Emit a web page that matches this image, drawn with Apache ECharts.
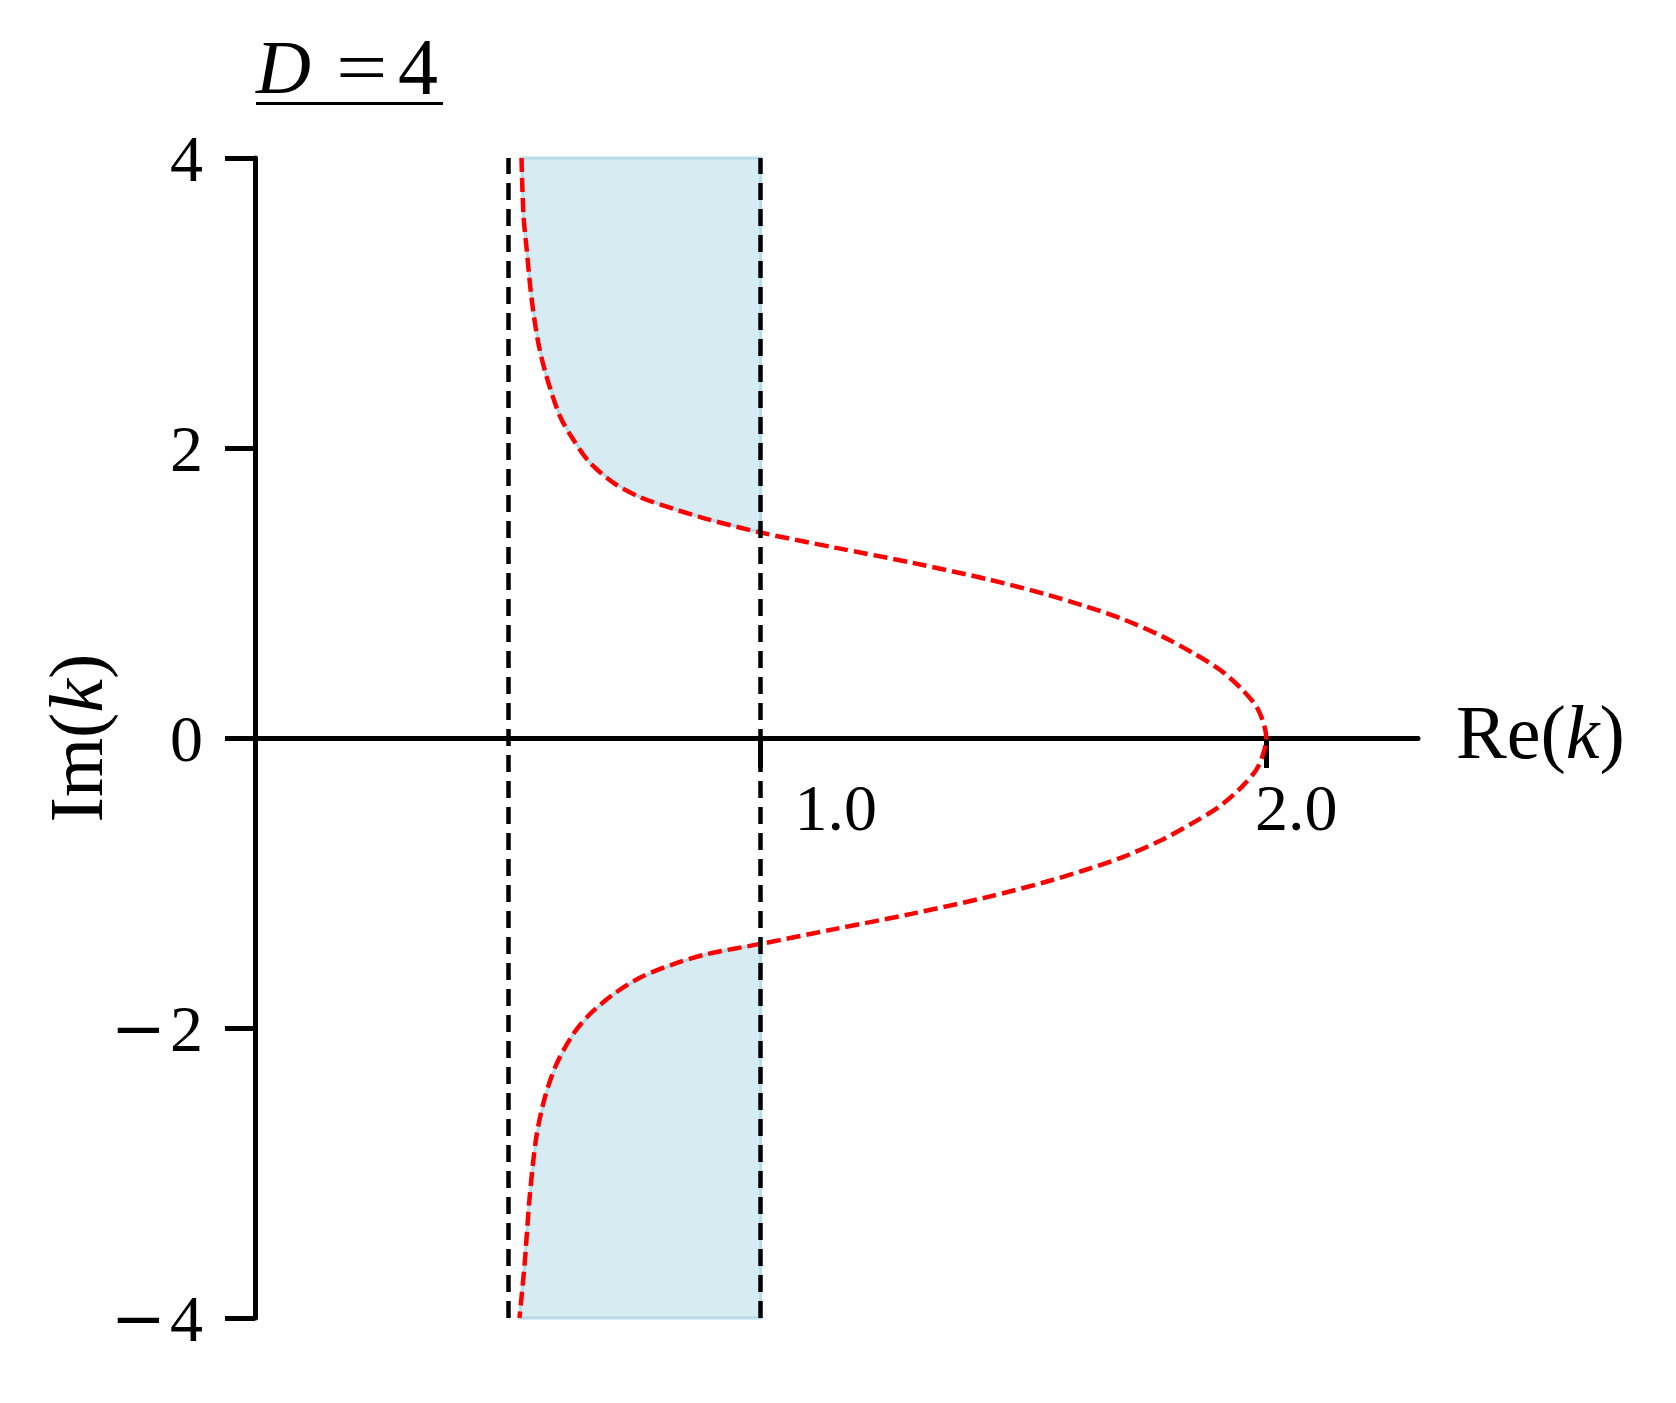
<!DOCTYPE html>
<html>
<head>
<meta charset="utf-8">
<script src="https://cdn.jsdelivr.net/npm/echarts@6/dist/echarts.min.js"></script>
<style>
  html, body { margin: 0; padding: 0; background: #fff; }
  #chart { width: 1676px; height: 1403px; }
</style>
</head>
<body>
<div id="chart"></div>
<script>
// -------------------- data --------------------

// red dashed curve (top -> Re=2 -> bottom)
const curveRe = [
  0.527, 0.531, 0.537, 0.547, 0.560, 0.576, 0.603, 0.629, 0.662, 0.709, 0.762, 0.828, 0.894,
  1.000, 1.147, 1.299, 1.451, 1.565, 1.642, 1.718, 1.794, 1.855, 1.908, 1.953, 1.984, 2.000,
  1.984, 1.952, 1.907, 1.853, 1.793, 1.717, 1.640, 1.563, 1.450, 1.298, 1.146, 1.000,
  0.894, 0.828, 0.762, 0.709, 0.662, 0.629, 0.596, 0.573, 0.556, 0.543, 0.533, 0.523
]
const curveIm = [
  4.00, 3.60, 3.38, 3.03, 2.73, 2.50, 2.22, 2.06, 1.90, 1.76, 1.66, 1.58, 1.51,
  1.417, 1.313, 1.209, 1.093, 0.990, 0.909, 0.817, 0.701, 0.586, 0.471, 0.332, 0.194, 0.0,
  -0.196, -0.335, -0.473, -0.589, -0.703, -0.820, -0.912, -0.993, -1.096, -1.213, -1.318, -1.420,
  -1.490, -1.559, -1.652, -1.767, -1.905, -2.044, -2.251, -2.482, -2.759, -3.174, -3.635, -4.00
]

// black dashed verticals
const boundsRe = [0.5, 1.0]

// corners closing the shaded regions
const fillCorners = [[1.0, 4.0], [1.0, -4.0]]

// ticks
const xTicks = [1.0, 2.0]
const xTickLabels = ['1.0', '2.0']
const yTicks = [-4, -2, 0, 2, 4]

// -------------------- chart --------------------

const FONT = '"Liberation Serif", "DejaVu Serif", serif'
const TICK_FS = 66
const NAME_FS = 76
// left padding of the x tick labels (px), shifts them right of the tick like the original
const X_LABEL_PAD = [150, 60]

const curve = curveRe.map((x, i) => [x, curveIm[i]])
const upperFill = curve.filter(p => p[0] <= 1.0 && p[1] > 0).concat([fillCorners[0]])
const lowerFill = curve.filter(p => p[0] <= 1.0 && p[1] < 0).concat([fillCorners[1]])
const fills = [upperFill, lowerFill]

const nameRich = {
  r: { fontFamily: FONT, fontSize: NAME_FS, color: '#000' },
  i: { fontFamily: FONT, fontSize: NAME_FS, fontStyle: 'italic', color: '#000' }
}

const chart = echarts.init(document.getElementById('chart'))

chart.setOption({
  animation: false,
  backgroundColor: '#fff',
  grid: { left: 255, top: 158, width: 1163, height: 1160, outerBoundsMode: 'none', containLabel: false },
  xAxis: {
    type: 'value',
    min: 0,
    max: 2.3,
    splitLine: { show: false },
    axisLine: { onZero: true, lineStyle: { color: '#000', width: 5 } },
    axisTick: { customValues: xTicks, length: 30, lineStyle: { color: '#000', width: 5 } },
    axisLabel: { show: false },
    name: '{r|Re(}{i|k}{r|)}',
    nameLocation: 'end',
    nameGap: 38,
    nameMoveOverlap: false,
    nameTextStyle: { rich: nameRich }
  },
  yAxis: {
    type: 'value',
    min: -4,
    max: 4,
    interval: 2,
    splitLine: { show: false },
    axisLine: { onZero: false, lineStyle: { color: '#000', width: 5 } },
    axisTick: { customValues: yTicks, length: 30, lineStyle: { color: '#000', width: 5 } },
    axisLabel: {
      customValues: yTicks,
      margin: 52,
      color: '#000',
      formatter: v => (v < 0 ? '{m|\u2212}{n|' + (-v) + '}' : '{n|' + v + '}'),
      rich: {
        m: { fontFamily: '"DejaVu Serif", serif', fontSize: TICK_FS, color: '#000', padding: [12, 4, 0, 0] },
        n: { fontFamily: FONT, fontSize: TICK_FS, color: '#000', padding: [12, 0, 0, 0] }
      }
    },
    name: '{r|Im(}{i|k}{r|)}',
    nameLocation: 'middle',
    nameRotate: 90,
    nameGap: 135,
    nameMoveOverlap: false,
    nameTextStyle: { rich: nameRich }
  },
  graphic: [
    {
      type: 'text',
      x: 256,
      y: 35,
      style: { text: 'D', fontFamily: FONT, fontSize: 76, fontStyle: 'italic', fill: '#000' }
    },
    {
      type: 'text',
      x: 336,
      y: 35,
      scaleX: 1.2,
      style: { text: '=', fontFamily: FONT, fontSize: 76, fill: '#000' }
    },
    {
      type: 'text',
      x: 398,
      y: 33,
      style: { text: '4', fontFamily: FONT, fontSize: 80, fill: '#000' }
    },
    {
      type: 'rect',
      shape: { x: 256, y: 102, width: 187, height: 3 },
      style: { fill: '#000' }
    }
  ],
  series: [
    // shaded regions
    {
      type: 'custom',
      z: 1,
      silent: true,
      data: fills.map(p => p[0]),
      renderItem: (params, api) => {
        const pts = fills[params.dataIndex].map(p => api.coord(p))
        return {
          type: 'polygon',
          shape: { points: pts },
          style: {
            fill: 'rgba(173, 216, 230, 0.5)',
            stroke: 'rgba(173, 216, 230, 0.85)',
            lineWidth: 3
          }
        }
      }
    },
    // red dashed curve + black dashed verticals
    {
      type: 'line',
      z: 3,
      data: curve,
      showSymbol: false,
      smooth: 0.3,
      silent: true,
      lineStyle: { color: '#ff0000', width: 4.5, type: [14, 6] },
      markLine: {
        silent: true,
        symbol: ['none', 'none'],
        label: { show: false },
        lineStyle: { color: '#000', width: 4.5, type: [17, 9] },
        data: boundsRe.map(x => ({ xAxis: x }))
      }
    },
    // x tick labels, anchored at the ticks on the Im = 0 line
    {
      type: 'scatter',
      z: 4,
      silent: true,
      symbolSize: 0,
      itemStyle: { opacity: 1 },
      data: xTicks.map(x => [x, 0]),
      label: {
        show: true,
        position: 'bottom',
        distance: 42,
        color: '#000',
        opacity: 1,
        textBorderWidth: 0,
        formatter: p => '{t' + p.dataIndex + '|' + xTickLabels[p.dataIndex] + '}',
        rich: {
          t0: { fontFamily: FONT, fontSize: TICK_FS, color: '#000', textBorderWidth: 0, padding: [0, 0, 0, X_LABEL_PAD[0]] },
          t1: { fontFamily: FONT, fontSize: TICK_FS, color: '#000', textBorderWidth: 0, padding: [0, 0, 0, X_LABEL_PAD[1]] }
        }
      }
    }
  ]
})
</script>
</body>
</html>
